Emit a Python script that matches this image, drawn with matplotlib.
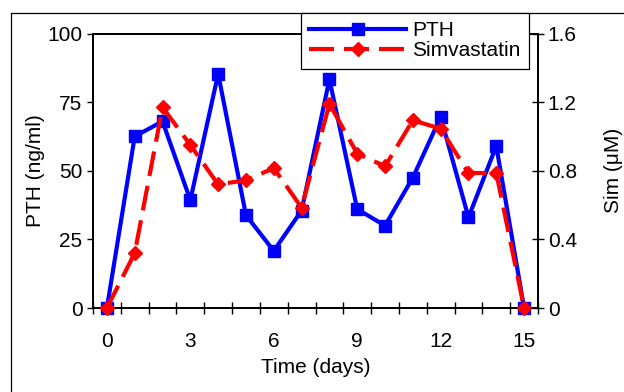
import matplotlib
matplotlib.use("Agg")
import matplotlib.pyplot as plt
from matplotlib.lines import Line2D

plt.rcParams["font.family"] = ["Liberation Sans", "DejaVu Sans"]

days = list(range(16))
pth = [0, 62.5, 68, 39.3, 85.3, 33.8, 20.8, 35.5, 83.3, 36, 30, 47.5, 69.6, 33, 59, 0]
sim = [0, 0.32, 1.17, 0.95, 0.72, 0.745, 0.815, 0.585, 1.19, 0.9, 0.826, 1.094, 1.045, 0.787, 0.787, 0]
x_labels = [0, 3, 6, 9, 12, 15]
pth_ticks = [0, 25, 50, 75, 100]
sim_ticks = [0, 0.4, 0.8, 1.2, 1.6]
sim_tick_labels = ["0", "0.4", "0.8", "1.2", "1.6"]

W, H = 624, 392
FS = 15
fig = plt.figure(figsize=(W / 100, H / 100), dpi=100)
ax = fig.add_axes([93 / W, 1 - 308 / H, 445 / W, 274.5 / H])
ax2 = ax.twinx()

# outer frame (runs off the right and bottom edge)
fig.add_artist(Line2D([11 / W, 11 / W, 1.01], [-0.01, 1 - 13 / H, 1 - 13 / H],
                      transform=fig.transFigure, color="black", lw=0.9))

l1, = ax.plot(days, pth, color="blue", lw=3, marker="s", ms=9, clip_on=False,
              zorder=3, label="PTH")
l2, = ax2.plot(days, sim, color="red", lw=3, ls=(0, (6, 2.4)), marker="D", ms=7.2,
               clip_on=False, zorder=4, label="Simvastatin")

ax.set_xlim(-0.5, 15.5)
ax.set_ylim(0, 100)
ax2.set_ylim(0, 1.6)

# tick marks between days, labels on every third day
ax.set_xticks([d + 0.5 for d in range(-1, 16)])
ax.set_xticklabels([])
ax.set_xticks(x_labels, minor=True)
ax.set_xticklabels([str(v) for v in x_labels], minor=True)
ax.tick_params(axis="x", which="major", direction="inout", length=9, width=1, pad=0)
ax.tick_params(axis="x", which="minor", length=0, pad=17.5, labelsize=FS)

ax.set_yticks(pth_ticks)
ax.tick_params(axis="y", direction="out", length=4.5, width=1, labelsize=FS, pad=3)
ax2.set_yticks(sim_ticks)
ax2.set_yticklabels(sim_tick_labels)
ax2.tick_params(axis="y", direction="inout", length=8, width=1, labelsize=FS, pad=3)

for a in (ax, ax2):
    for s in a.spines.values():
        s.set_linewidth(1.3)

ax.set_xlabel("Time (days)", fontsize=FS, labelpad=5)
ax.set_ylabel("PTH (ng/ml)", fontsize=FS)
ax.yaxis.set_label_coords(-0.108, 0.5)
ax2.set_ylabel("Sim (\u03bcM)", fontsize=FS)
ax2.yaxis.set_label_coords(1.148, 0.5)

leg = fig.legend(handles=[l1, l2], loc="upper left",
                 bbox_to_anchor=(301 / W, 1 - 13 / H), bbox_transform=fig.transFigure,
                 fontsize=FS, frameon=True, fancybox=False, framealpha=1,
                 edgecolor="black", borderaxespad=0, borderpad=0.4,
                 handlelength=4.65, handletextpad=0.3, labelspacing=0.05)
leg.get_frame().set_linewidth(0.9)

fig.savefig("out.png", dpi=100)
